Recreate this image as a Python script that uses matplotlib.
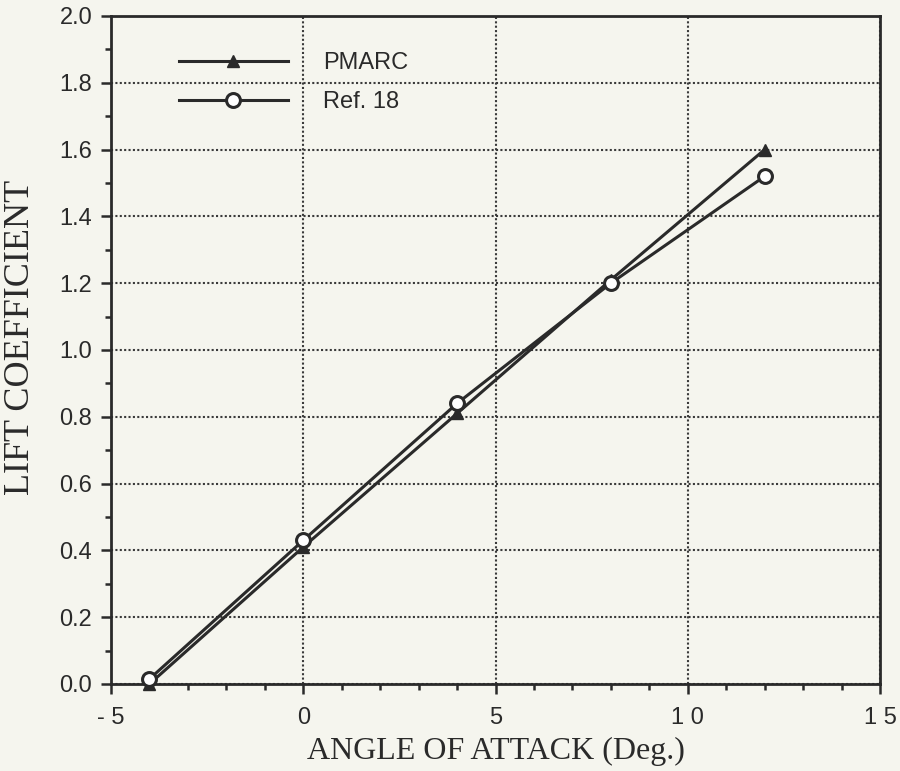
import matplotlib
matplotlib.use("Agg")
import matplotlib.pyplot as plt
from matplotlib.ticker import MultipleLocator, FixedLocator

# Data
alpha = [-4, 0, 4, 8, 12]
cl_pmarc = [0.0, 0.41, 0.81, 1.21, 1.60]
cl_ref18 = [0.015, 0.43, 0.84, 1.20, 1.52]
series_labels = ["PMARC", "Ref. 18"]
x_ticks = [-5, 0, 5, 10, 15]
x_tick_labels = ["- 5", "0", "5", "1 0", "1 5"]
y_ticks = [0.0, 0.2, 0.4, 0.6, 0.8, 1.0, 1.2, 1.4, 1.6, 1.8, 2.0]
y_tick_labels = ["0.0", "0.2", "0.4", "0.6", "0.8", "1.0", "1.2", "1.4", "1.6", "1.8", "2.0"]

bg = "#f5f5ee"
ink = "#2a2a2a"

fig = plt.figure(figsize=(9, 7.71), dpi=100, facecolor=bg)
ax = fig.add_axes([111/900, 1-684/771, (880-111)/900, (684-16)/771])
ax.set_facecolor(bg)

ax.plot(alpha, cl_pmarc, color=ink, lw=2.2, marker="^", ms=9,
        mfc=ink, mec=ink, label=series_labels[0], clip_on=False, zorder=3)
ax.plot(alpha, cl_ref18, color=ink, lw=2.2, marker="o", ms=10,
        mfc="white", mec=ink, mew=2.2, label=series_labels[1], clip_on=False, zorder=4)

ax.set_xlim(-5, 15)
ax.set_ylim(0, 2.0)
ax.xaxis.set_major_locator(FixedLocator(x_ticks))
ax.set_xticklabels(x_tick_labels)
ax.yaxis.set_major_locator(FixedLocator(y_ticks))
ax.set_yticklabels(y_tick_labels)
ax.xaxis.set_minor_locator(MultipleLocator(1))
ax.yaxis.set_minor_locator(MultipleLocator(0.1))

for lab in ax.get_xticklabels() + ax.get_yticklabels():
    lab.set_fontfamily(["Liberation Sans", "DejaVu Sans"])
    lab.set_fontsize(17)
    lab.set_color(ink)

ax.tick_params(which="major", direction="out", length=7.5, width=1.8, color=ink)
ax.tick_params(which="minor", direction="out", length=4.5, width=1.8, color=ink)
ax.tick_params(axis="y", which="major", pad=6)
ax.tick_params(axis="x", which="major", pad=9)
ax.tick_params(top=False, right=False, which="both")

for s in ax.spines.values():
    s.set_color(ink)
    s.set_linewidth(2.0)

ax.grid(True, which="major", color="#3a3a3a", linestyle=(0, (1, 1.1)), linewidth=1.5)
ax.set_axisbelow(True)

ax.set_xlabel("ANGLE OF ATTACK (Deg.)", family=["Liberation Serif", "DejaVu Serif"],
              fontsize=23, color=ink, labelpad=6)
ax.set_ylabel("LIFT COEFFICIENT", family=["Liberation Serif", "DejaVu Serif"],
              fontsize=26, color=ink)
ax.yaxis.set_label_coords(-(111-37)/769, (684-337)/668)

leg = ax.legend(loc="center left", bbox_to_anchor=(179/900, 1-82.5/771),
                bbox_transform=fig.transFigure, frameon=False,
                prop={"family": ["Liberation Sans", "DejaVu Sans"], "size": 17},
                handlelength=4.6, handletextpad=1.5, labelspacing=0.7,
                borderpad=0, borderaxespad=0)
for t in leg.get_texts():
    t.set_color(ink)

fig.savefig("out.png", dpi=100, facecolor=bg)
